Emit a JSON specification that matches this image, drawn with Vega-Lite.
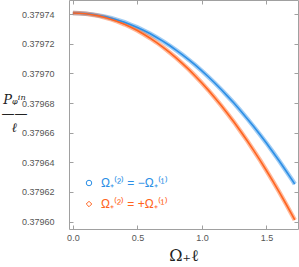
{
  "$schema": "https://vega.github.io/schema/vega-lite/v6.json",
  "width": 229,
  "height": 229,
  "autosize": "none",
  "padding": {"left": 69, "top": 0, "right": 1, "bottom": 38},
  "background": "white",
  "datasets": {
    "curves": [
      {"x": 0, "y": 0.3797407, "series": "Ω₊⁽²⁾ = −Ω₊⁽¹⁾"},
      {"x": 0.05, "y": 0.3797406, "series": "Ω₊⁽²⁾ = −Ω₊⁽¹⁾"},
      {"x": 0.1, "y": 0.3797403, "series": "Ω₊⁽²⁾ = −Ω₊⁽¹⁾"},
      {"x": 0.15, "y": 0.3797398, "series": "Ω₊⁽²⁾ = −Ω₊⁽¹⁾"},
      {"x": 0.2, "y": 0.3797391, "series": "Ω₊⁽²⁾ = −Ω₊⁽¹⁾"},
      {"x": 0.25, "y": 0.3797383, "series": "Ω₊⁽²⁾ = −Ω₊⁽¹⁾"},
      {"x": 0.3, "y": 0.3797372, "series": "Ω₊⁽²⁾ = −Ω₊⁽¹⁾"},
      {"x": 0.35, "y": 0.3797359, "series": "Ω₊⁽²⁾ = −Ω₊⁽¹⁾"},
      {"x": 0.4, "y": 0.3797345, "series": "Ω₊⁽²⁾ = −Ω₊⁽¹⁾"},
      {"x": 0.45, "y": 0.3797328, "series": "Ω₊⁽²⁾ = −Ω₊⁽¹⁾"},
      {"x": 0.5, "y": 0.379731, "series": "Ω₊⁽²⁾ = −Ω₊⁽¹⁾"},
      {"x": 0.55, "y": 0.3797289, "series": "Ω₊⁽²⁾ = −Ω₊⁽¹⁾"},
      {"x": 0.6, "y": 0.3797267, "series": "Ω₊⁽²⁾ = −Ω₊⁽¹⁾"},
      {"x": 0.65, "y": 0.3797242, "series": "Ω₊⁽²⁾ = −Ω₊⁽¹⁾"},
      {"x": 0.7, "y": 0.3797216, "series": "Ω₊⁽²⁾ = −Ω₊⁽¹⁾"},
      {"x": 0.75, "y": 0.3797188, "series": "Ω₊⁽²⁾ = −Ω₊⁽¹⁾"},
      {"x": 0.8, "y": 0.3797157, "series": "Ω₊⁽²⁾ = −Ω₊⁽¹⁾"},
      {"x": 0.85, "y": 0.3797125, "series": "Ω₊⁽²⁾ = −Ω₊⁽¹⁾"},
      {"x": 0.9, "y": 0.3797091, "series": "Ω₊⁽²⁾ = −Ω₊⁽¹⁾"},
      {"x": 0.95, "y": 0.3797055, "series": "Ω₊⁽²⁾ = −Ω₊⁽¹⁾"},
      {"x": 1.0, "y": 0.3797017, "series": "Ω₊⁽²⁾ = −Ω₊⁽¹⁾"},
      {"x": 1.05, "y": 0.3796977, "series": "Ω₊⁽²⁾ = −Ω₊⁽¹⁾"},
      {"x": 1.1, "y": 0.3796935, "series": "Ω₊⁽²⁾ = −Ω₊⁽¹⁾"},
      {"x": 1.15, "y": 0.3796891, "series": "Ω₊⁽²⁾ = −Ω₊⁽¹⁾"},
      {"x": 1.2, "y": 0.3796845, "series": "Ω₊⁽²⁾ = −Ω₊⁽¹⁾"},
      {"x": 1.25, "y": 0.3796798, "series": "Ω₊⁽²⁾ = −Ω₊⁽¹⁾"},
      {"x": 1.3, "y": 0.3796748, "series": "Ω₊⁽²⁾ = −Ω₊⁽¹⁾"},
      {"x": 1.35, "y": 0.3796696, "series": "Ω₊⁽²⁾ = −Ω₊⁽¹⁾"},
      {"x": 1.4, "y": 0.3796643, "series": "Ω₊⁽²⁾ = −Ω₊⁽¹⁾"},
      {"x": 1.45, "y": 0.3796587, "series": "Ω₊⁽²⁾ = −Ω₊⁽¹⁾"},
      {"x": 1.5, "y": 0.379653, "series": "Ω₊⁽²⁾ = −Ω₊⁽¹⁾"},
      {"x": 1.55, "y": 0.379647, "series": "Ω₊⁽²⁾ = −Ω₊⁽¹⁾"},
      {"x": 1.6, "y": 0.3796409, "series": "Ω₊⁽²⁾ = −Ω₊⁽¹⁾"},
      {"x": 1.65, "y": 0.3796345, "series": "Ω₊⁽²⁾ = −Ω₊⁽¹⁾"},
      {"x": 1.7, "y": 0.379628, "series": "Ω₊⁽²⁾ = −Ω₊⁽¹⁾"},
      {"x": 1.72, "y": 0.3796253, "series": "Ω₊⁽²⁾ = −Ω₊⁽¹⁾"},
      {"x": 0, "y": 0.3797407, "series": "Ω₊⁽²⁾ = +Ω₊⁽¹⁾"},
      {"x": 0.05, "y": 0.3797406, "series": "Ω₊⁽²⁾ = +Ω₊⁽¹⁾"},
      {"x": 0.1, "y": 0.3797402, "series": "Ω₊⁽²⁾ = +Ω₊⁽¹⁾"},
      {"x": 0.15, "y": 0.3797396, "series": "Ω₊⁽²⁾ = +Ω₊⁽¹⁾"},
      {"x": 0.2, "y": 0.3797388, "series": "Ω₊⁽²⁾ = +Ω₊⁽¹⁾"},
      {"x": 0.25, "y": 0.3797377, "series": "Ω₊⁽²⁾ = +Ω₊⁽¹⁾"},
      {"x": 0.3, "y": 0.3797364, "series": "Ω₊⁽²⁾ = +Ω₊⁽¹⁾"},
      {"x": 0.35, "y": 0.3797349, "series": "Ω₊⁽²⁾ = +Ω₊⁽¹⁾"},
      {"x": 0.4, "y": 0.3797331, "series": "Ω₊⁽²⁾ = +Ω₊⁽¹⁾"},
      {"x": 0.45, "y": 0.3797311, "series": "Ω₊⁽²⁾ = +Ω₊⁽¹⁾"},
      {"x": 0.5, "y": 0.3797289, "series": "Ω₊⁽²⁾ = +Ω₊⁽¹⁾"},
      {"x": 0.55, "y": 0.3797264, "series": "Ω₊⁽²⁾ = +Ω₊⁽¹⁾"},
      {"x": 0.6, "y": 0.3797237, "series": "Ω₊⁽²⁾ = +Ω₊⁽¹⁾"},
      {"x": 0.65, "y": 0.3797208, "series": "Ω₊⁽²⁾ = +Ω₊⁽¹⁾"},
      {"x": 0.7, "y": 0.3797176, "series": "Ω₊⁽²⁾ = +Ω₊⁽¹⁾"},
      {"x": 0.75, "y": 0.3797141, "series": "Ω₊⁽²⁾ = +Ω₊⁽¹⁾"},
      {"x": 0.8, "y": 0.3797105, "series": "Ω₊⁽²⁾ = +Ω₊⁽¹⁾"},
      {"x": 0.85, "y": 0.3797066, "series": "Ω₊⁽²⁾ = +Ω₊⁽¹⁾"},
      {"x": 0.9, "y": 0.3797025, "series": "Ω₊⁽²⁾ = +Ω₊⁽¹⁾"},
      {"x": 0.95, "y": 0.3796981, "series": "Ω₊⁽²⁾ = +Ω₊⁽¹⁾"},
      {"x": 1.0, "y": 0.3796935, "series": "Ω₊⁽²⁾ = +Ω₊⁽¹⁾"},
      {"x": 1.05, "y": 0.3796887, "series": "Ω₊⁽²⁾ = +Ω₊⁽¹⁾"},
      {"x": 1.1, "y": 0.3796836, "series": "Ω₊⁽²⁾ = +Ω₊⁽¹⁾"},
      {"x": 1.15, "y": 0.3796783, "series": "Ω₊⁽²⁾ = +Ω₊⁽¹⁾"},
      {"x": 1.2, "y": 0.3796727, "series": "Ω₊⁽²⁾ = +Ω₊⁽¹⁾"},
      {"x": 1.25, "y": 0.379667, "series": "Ω₊⁽²⁾ = +Ω₊⁽¹⁾"},
      {"x": 1.3, "y": 0.3796609, "series": "Ω₊⁽²⁾ = +Ω₊⁽¹⁾"},
      {"x": 1.35, "y": 0.3796547, "series": "Ω₊⁽²⁾ = +Ω₊⁽¹⁾"},
      {"x": 1.4, "y": 0.3796482, "series": "Ω₊⁽²⁾ = +Ω₊⁽¹⁾"},
      {"x": 1.45, "y": 0.3796415, "series": "Ω₊⁽²⁾ = +Ω₊⁽¹⁾"},
      {"x": 1.5, "y": 0.3796345, "series": "Ω₊⁽²⁾ = +Ω₊⁽¹⁾"},
      {"x": 1.55, "y": 0.3796273, "series": "Ω₊⁽²⁾ = +Ω₊⁽¹⁾"},
      {"x": 1.6, "y": 0.3796199, "series": "Ω₊⁽²⁾ = +Ω₊⁽¹⁾"},
      {"x": 1.65, "y": 0.3796122, "series": "Ω₊⁽²⁾ = +Ω₊⁽¹⁾"},
      {"x": 1.7, "y": 0.3796043, "series": "Ω₊⁽²⁾ = +Ω₊⁽¹⁾"},
      {"x": 1.72, "y": 0.3796011, "series": "Ω₊⁽²⁾ = +Ω₊⁽¹⁾"}
    ]
  },
  "data": {"name": "curves"},
  "resolve": {"axis": {"x": "independent", "y": "independent"}},
  "layer": [
    {
      "mark": {"type": "line", "strokeWidth": 4.5, "opacity": 0.45, "clip": true},
      "encoding": {
        "x": {"field": "x", "type": "quantitative", "scale": {"domain": [-0.03, 1.745], "nice": false, "zero": false},
          "axis": {"orient": "bottom", "values": [0, 0.5, 1, 1.5], "format": ".1f", "tickSize": -4, "labelPadding": 8,
            "title": "Ω₊ℓ", "titleFont": "DejaVu Serif", "titleFontSize": 16, "titleFontWeight": "normal", "titleColor": "#222222", "titlePadding": 5}},
        "y": {"field": "y", "type": "quantitative", "scale": {"domain": [0.379595, 0.3797495], "nice": false, "zero": false},
          "axis": {"orient": "left", "values": [0.3796, 0.37962, 0.37964, 0.37966, 0.37968, 0.3797, 0.37972, 0.37974], "format": ".5f", "tickSize": -4, "labelPadding": 19,
            "title": ["Pᵩⁱⁿ", "——", "ℓ"], "titleAngle": 0, "titleAlign": "center", "titleBaseline": "middle", "titleX": -55, "titleY": 99,
            "titleFont": "DejaVu Serif", "titleFontStyle": "italic", "titleFontSize": 13, "titleFontWeight": "normal", "titleColor": "#222222", "titleLineHeight": 14}},
        "color": {"field": "series", "type": "nominal", "scale": {"domain": ["Ω₊⁽²⁾ = −Ω₊⁽¹⁾", "Ω₊⁽²⁾ = +Ω₊⁽¹⁾"], "range": ["#2C8FE6", "#FF6420"]},
          "legend": {"encode": {"labels": {"fill": {"scale": "color", "field": "value"}, "update": {"fill": {"scale": "color", "field": "value"}}}}}}
      }
    },
    {
      "mark": {"type": "line", "strokeWidth": 1.6, "clip": true},
      "encoding": {
        "x": {"field": "x", "type": "quantitative", "axis": {"orient": "top", "values": [0, 0.5, 1, 1.5], "labels": false, "tickSize": -4, "title": null}},
        "y": {"field": "y", "type": "quantitative", "axis": {"orient": "right", "values": [0.3796, 0.37962, 0.37964, 0.37966, 0.37968, 0.3797, 0.37972, 0.37974], "labels": false, "tickSize": -4, "title": null}},
        "color": {"field": "series", "type": "nominal",
          "legend": {"encode": {"labels": {"fill": {"scale": "color", "field": "value"}, "update": {"fill": {"scale": "color", "field": "value"}}}}}}
      }
    },
    {
      "mark": {"type": "point", "filled": false, "opacity": 0, "strokeWidth": 1},
      "encoding": {
        "x": {"field": "x", "type": "quantitative", "axis": null},
        "y": {"field": "y", "type": "quantitative", "axis": null},
        "color": {"field": "series", "type": "nominal",
          "legend": {"encode": {"labels": {"fill": {"scale": "color", "field": "value"}, "update": {"fill": {"scale": "color", "field": "value"}}}}}},
        "shape": {"field": "series", "type": "nominal", "scale": {"domain": ["Ω₊⁽²⁾ = −Ω₊⁽¹⁾", "Ω₊⁽²⁾ = +Ω₊⁽¹⁾"], "range": ["circle", "diamond"]},
          "legend": {"encode": {"labels": {"fill": {"scale": "color", "field": "value"}, "update": {"fill": {"scale": "color", "field": "value"}}}}}}
      }
    }
  ],
  "config": {
    "view": {"stroke": "#a0a0a0", "strokeWidth": 1},
    "axis": {"domain": false, "grid": false, "tickColor": "#a0a0a0", "labelColor": "#555555", "labelFont": "Liberation Sans", "labelFontSize": 9},
    "legend": {"orient": "none", "legendX": 14, "legendY": 177, "title": null, "padding": 0, "symbolOpacity": 1, "symbolSize": 30, "symbolStrokeWidth": 1, "symbolFillColor": "transparent",
      "labelFont": "Liberation Sans", "labelFontSize": 12, "labelOffset": 6, "rowPadding": 9, "labelLimit": 200}
  }
}
